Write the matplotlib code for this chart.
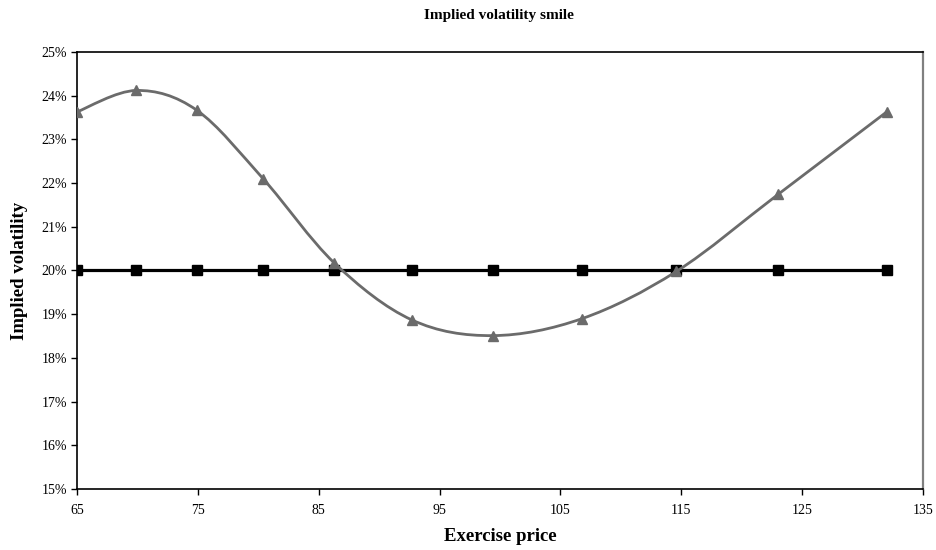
import numpy as np
import matplotlib
matplotlib.use("Agg")
import matplotlib.pyplot as plt
from matplotlib.path import Path
from matplotlib.patches import PathPatch
from matplotlib.ticker import FuncFormatter

# Strike prices and implied volatilities (%)
strikes = [65.0, 69.9, 74.9, 80.4, 86.3, 92.7, 99.4, 106.8, 114.6, 123.0, 132.0]
smile_vol = [23.63, 24.12, 23.67, 22.10, 20.17, 18.87, 18.51, 18.90, 19.98, 21.74, 23.63]
flat_vol = [20, 20, 20, 20, 20, 20, 20, 20, 20, 20, 20]

x_ticks = [65, 75, 85, 95, 105, 115, 125, 135]
y_ticks = [15, 16, 17, 18, 19, 20, 21, 22, 23, 24, 25]

plt.rcParams["font.family"] = ["Liberation Serif", "DejaVu Serif"]

fig = plt.figure(figsize=(9.37, 5.5), dpi=100)
ax = fig.add_axes([77 / 937, 61 / 550, 846 / 937, 437 / 550])


def smooth_path(xs, ys):
    """Cubic Bezier path through the points (Catmull-Rom style smoothing)."""
    pts = np.column_stack([xs, ys])
    n = len(pts)
    verts = [pts[0]]
    codes = [Path.MOVETO]
    for i in range(n - 1):
        p0 = pts[i - 1] if i > 0 else pts[i]
        p1 = pts[i]
        p2 = pts[i + 1]
        p3 = pts[i + 2] if i + 2 < n else pts[i + 1]
        c1 = p1 + (p2 - p0) / 6.0
        c2 = p2 - (p3 - p1) / 6.0
        verts += [c1, c2, p2]
        codes += [Path.CURVE4] * 3
    return Path(verts, codes)


gray = "#6b6b6b"
ax.add_patch(PathPatch(smooth_path(strikes, smile_vol), facecolor="none",
                       edgecolor=gray, lw=2.0, zorder=3))
ax.plot(strikes, smile_vol, linestyle="none", marker="^", ms=6.5,
        color=gray, zorder=4)

ax.plot(strikes, flat_vol, color="black", lw=2.3, marker="s", ms=6.5,
        zorder=2)

ax.set_xlim(65, 135)
ax.set_ylim(15, 25)
ax.set_xticks(x_ticks)
ax.set_yticks(y_ticks)
ax.yaxis.set_major_formatter(FuncFormatter(lambda v, p: f"{v:.0f}%"))
ax.tick_params(direction="out", length=4, width=1, labelsize=10,
               colors="black", pad=3)
ax.tick_params(axis="x", pad=7)

for side in ["left", "bottom", "top"]:
    ax.spines[side].set_color("black")
    ax.spines[side].set_linewidth(1.2)
ax.spines["right"].set_color("#808080")
ax.spines["right"].set_linewidth(1.6)

ax.set_xlabel("Exercise price", fontsize=13.5, fontweight="bold", labelpad=8)
ax.set_ylabel("Implied volatility", fontsize=13.5, fontweight="bold", labelpad=10)
fig.text(0.532, 1 - 16 / 550, "Implied volatility smile", ha="center",
         va="center", fontsize=11, fontweight="bold")

fig.savefig("out.png", dpi=100)
